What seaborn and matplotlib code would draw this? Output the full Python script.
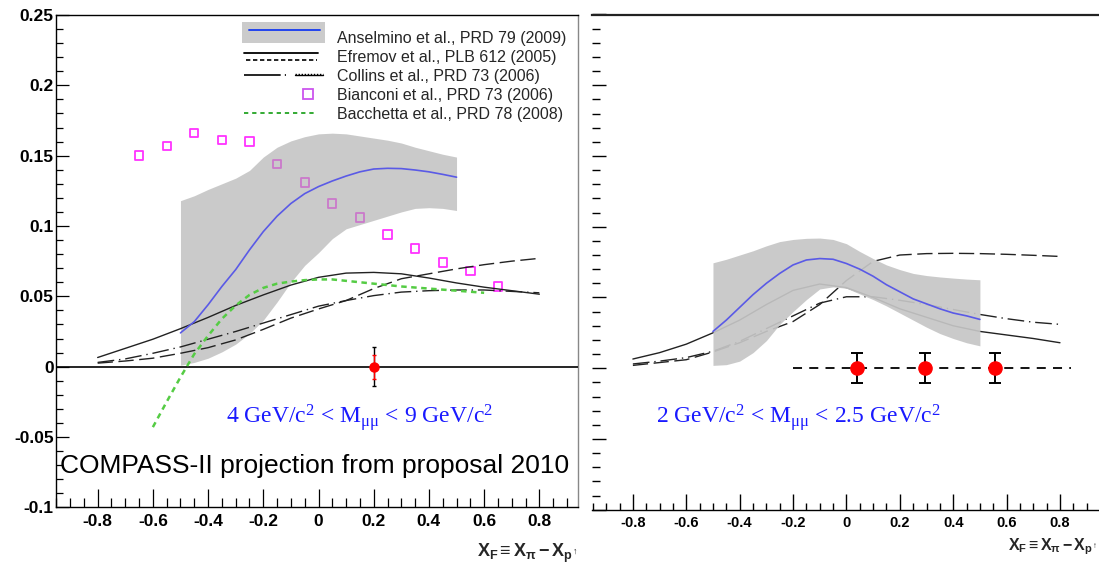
import matplotlib
matplotlib.use("Agg")
import matplotlib.pyplot as plt
import seaborn as sns
from matplotlib.legend_handler import HandlerBase
from matplotlib.lines import Line2D
from matplotlib.patches import Rectangle
from matplotlib.ticker import MultipleLocator, FuncFormatter

# ---------------- data: high-mass panel (4 < M < 9 GeV/c^2) ----------------
hm_band_x = [-0.5, -0.45, -0.4, -0.35, -0.3, -0.25, -0.2, -0.15, -0.1, -0.05, 0.0,
             0.05, 0.1, 0.15, 0.2, 0.25, 0.3, 0.35, 0.4, 0.45, 0.5]
hm_band_hi = [0.118, 0.1215, 0.126, 0.130, 0.134, 0.1395, 0.149, 0.156, 0.1605, 0.1635, 0.1655,
              0.166, 0.1655, 0.164, 0.1625, 0.161, 0.159, 0.156, 0.1535, 0.151, 0.149]
hm_band_lo = [0.001, 0.003, 0.006, 0.0105, 0.016, 0.0235, 0.033, 0.046, 0.060, 0.072, 0.081,
              0.091, 0.098, 0.101, 0.104, 0.107, 0.110, 0.1125, 0.113, 0.1125, 0.111]
hm_anselmino = [0.024, 0.032, 0.044, 0.057, 0.069, 0.083, 0.096, 0.107, 0.116, 0.123, 0.128,
                0.132, 0.1355, 0.1385, 0.1405, 0.141, 0.1408, 0.1398, 0.1385, 0.1367, 0.1347]

curve_x = [-0.8, -0.7, -0.6, -0.5, -0.4, -0.3, -0.2, -0.1, 0.0,
           0.1, 0.2, 0.3, 0.4, 0.5, 0.6, 0.7, 0.8]
hm_efremov = [0.0065, 0.013, 0.0195, 0.027, 0.035, 0.0435, 0.051, 0.058, 0.0635,
              0.0665, 0.067, 0.066, 0.063, 0.0595, 0.0565, 0.054, 0.0515]
hm_efremov_alt = [0.0025, 0.004, 0.006, 0.0095, 0.0135, 0.019, 0.0265, 0.0345, 0.041,
                  0.047, 0.0555, 0.0625, 0.066, 0.0695, 0.0725, 0.075, 0.077]
hm_collins = [0.003, 0.0055, 0.0095, 0.014, 0.0195, 0.025, 0.031, 0.037, 0.043,
              0.047, 0.0505, 0.053, 0.054, 0.0545, 0.0545, 0.0535, 0.0525]

bianconi_x = [-0.65, -0.55, -0.45, -0.35, -0.25, -0.15, -0.05,
              0.05, 0.15, 0.25, 0.35, 0.45, 0.55, 0.65]
bianconi_y = [0.150, 0.157, 0.166, 0.161, 0.160, 0.144, 0.131,
              0.116, 0.106, 0.094, 0.084, 0.074, 0.068, 0.057]

bacchetta_x = [-0.6, -0.55, -0.5, -0.45, -0.4, -0.35, -0.3, -0.25, -0.2, -0.15, -0.1,
               -0.05, 0.0, 0.05, 0.1, 0.2, 0.3, 0.4, 0.5, 0.6]
bacchetta_y = [-0.043, -0.025, -0.0075, 0.009, 0.022, 0.034, 0.0435, 0.051, 0.056, 0.059, 0.0605,
               0.0615, 0.062, 0.062, 0.061, 0.059, 0.057, 0.0555, 0.054, 0.0525]

hm_point_x = [0.2]
hm_point_y = [0.0]
hm_stat_err = [0.014]
hm_syst_err = [0.0085]

# ---------------- data: low-mass panel (2 < M < 2.5 GeV/c^2) ----------------
lm_band_hi = [0.0745, 0.077, 0.080, 0.083, 0.0865, 0.0895, 0.091, 0.0918, 0.092, 0.091, 0.088,
              0.0825, 0.0775, 0.073, 0.0697, 0.067, 0.0655, 0.0645, 0.0637, 0.063, 0.0625]
lm_band_lo = [0.002, 0.0025, 0.005, 0.011, 0.0195, 0.031, 0.040, 0.0485, 0.056, 0.0575, 0.0565,
              0.0525, 0.0485, 0.044, 0.039, 0.034, 0.029, 0.0245, 0.021, 0.018, 0.0158]
lm_anselmino = [0.026, 0.034, 0.043, 0.052, 0.060, 0.067, 0.073, 0.0765, 0.0775, 0.077, 0.074,
                0.070, 0.065, 0.059, 0.054, 0.049, 0.0455, 0.042, 0.039, 0.037, 0.0345]
lm_efremov = [0.0065, 0.011, 0.017, 0.025, 0.034, 0.045, 0.055, 0.0595, 0.057,
              0.050, 0.042, 0.036, 0.030, 0.026, 0.0235, 0.021, 0.018]
lm_efremov_alt = [0.002, 0.004, 0.006, 0.0115, 0.018, 0.026, 0.033, 0.045, 0.062,
                  0.0755, 0.080, 0.081, 0.0812, 0.081, 0.0805, 0.0798, 0.079]
lm_collins = [0.003, 0.005, 0.0075, 0.012, 0.019, 0.028, 0.037, 0.046, 0.0505,
              0.0505, 0.048, 0.045, 0.0415, 0.038, 0.035, 0.0325, 0.031]

lm_point_x = [0.04, 0.295, 0.555]
lm_point_y = [0.0, 0.0, 0.0]
lm_stat_err = [0.0105, 0.0105, 0.0105]
lm_zero_x = [-0.2, 0.84]

legend_labels = ["Anselmino et al., PRD 79 (2009)",
                 "Efremov et al., PLB 612 (2005)",
                 "Collins et al., PRD 73 (2006)",
                 "Bianconi et al., PRD 73 (2006)",
                 "Bacchetta et al., PRD 78 (2008)"]

# ---------------- style ----------------
GRAY_BAND = "#a8a8a8"
GRAY_BAND_LM = "#c6c6c6"
BLUE = "#5a5ae6"
MAGENTA = "#ff33ff"
GREEN = "#55cc44"
RED = "#ff0000"
TXT_BLUE = "#1a1aff"

sns.set_theme(style="white")
plt.rcParams["font.family"] = ["Liberation Sans", "DejaVu Sans"]
plt.rcParams["axes.unicode_minus"] = False
plt.rcParams["mathtext.fontset"] = "stix"

W, H = 1099, 566
fig = plt.figure(figsize=(W / 100, H / 100), dpi=100)
fig.patch.set_facecolor("white")


def px_rect(left, right, bottom, top):
    return [left / W, 1 - bottom / H, (right - left) / W, (bottom - top) / H]


ax1 = fig.add_axes(px_rect(55.7, 578, 507.3, 15))
ax2 = fig.add_axes(px_rect(592.3, 1099.5, 509.7, 14.5))

LONG_DASH = (0, (11, 4))
DASH_DOT = (0, (12, 3.5, 1, 3.5))
GREEN_DASH = (0, (2.2, 1.8))


def tick_fmt(v, pos):
    v = round(v, 4)
    return "0" if abs(v) < 1e-9 else f"{v:g}"


for ax in (ax1, ax2):
    ax.set_facecolor("white")
    ax.set_xlim(-0.952, 0.94 if ax is ax1 else 0.948)
    ax.set_ylim(-0.1, 0.25)
    ax.xaxis.set_major_locator(MultipleLocator(0.2))
    ax.xaxis.set_minor_locator(MultipleLocator(0.05))
    ax.yaxis.set_major_locator(MultipleLocator(0.05))
    ax.yaxis.set_minor_locator(MultipleLocator(0.01))
    ax.xaxis.set_major_formatter(FuncFormatter(tick_fmt))
    ax.yaxis.set_major_formatter(FuncFormatter(tick_fmt))
    ax.grid(False)

# ---------------- left panel ----------------
sns.scatterplot(x=bianconi_x, y=bianconi_y, ax=ax1, marker="s", s=36,
                facecolors="none", edgecolors=MAGENTA, linewidths=1.3, zorder=1)
ax1.fill_between(hm_band_x, hm_band_lo, hm_band_hi, color=GRAY_BAND, alpha=0.6,
                 lw=0, zorder=2)
ax1.axhline(0, color="black", lw=1.2, zorder=3)
sns.lineplot(x=curve_x, y=hm_efremov, ax=ax1, color="#222222", lw=1.0, zorder=4)
sns.lineplot(x=curve_x, y=hm_efremov_alt, ax=ax1, color="#222222", lw=1.0,
             linestyle=LONG_DASH, zorder=4)
sns.lineplot(x=curve_x, y=hm_collins, ax=ax1, color="#222222", lw=1.0,
             linestyle=DASH_DOT, zorder=4)
sns.lineplot(x=hm_band_x, y=hm_anselmino, ax=ax1, color=BLUE, lw=1.2, zorder=5)
sns.lineplot(x=bacchetta_x, y=bacchetta_y, ax=ax1, color=GREEN, lw=1.8,
             linestyle=GREEN_DASH, zorder=5)
ax1.errorbar(hm_point_x, hm_point_y, yerr=hm_stat_err, fmt="none", ecolor="black",
             elinewidth=1.0, capsize=1.5, zorder=6)
ax1.errorbar(hm_point_x, hm_point_y, yerr=hm_syst_err, fmt="o", color=RED, ms=6.5,
             ecolor=RED, elinewidth=1.0, capsize=1.5, zorder=7)

ax1.tick_params(axis="both", which="both", direction="in", colors="black",
                bottom=True, left=True, top=False, right=False, width=0.9)
ax1.tick_params(axis="x", which="major", length=13, pad=4.5, labelsize=12.5)
ax1.tick_params(axis="x", which="minor", length=6.5)
ax1.tick_params(axis="y", which="major", length=9, pad=1.5, labelsize=12.5)
ax1.tick_params(axis="y", which="minor", length=4.7)
for lab in ax1.get_xticklabels() + ax1.get_yticklabels():
    lab.set_fontweight("bold")
for side, sp in ax1.spines.items():
    sp.set_visible(True)
    sp.set_color("black" if side != "right" else "#888888")
    sp.set_linewidth(1.0)

ax1.set_xlabel(r"$\mathregular{X_F \equiv X_\pi - X_{p^\uparrow}}$", fontsize=13,
               fontweight="bold", loc="right")
ax1.xaxis.set_label_coords(1.0, (507.3 - 557) / 492.3)
ax1.xaxis.label.set_verticalalignment("baseline")

ax1.text((226 - 55.7) / 522.3, (507.3 - 423) / 492.3,
         r"4 GeV/c$\mathregular{^2}$ < M$\mathregular{_{μμ}}$ < 9 GeV/c$\mathregular{^2}$",
         transform=ax1.transAxes, color=TXT_BLUE, fontsize=17,
         family=["Liberation Serif", "DejaVu Serif"], va="baseline", ha="left")
ax1.text((60 - 55.7) / 522.3, (507.3 - 473) / 492.3,
         "COMPASS-II projection from proposal 2010",
         transform=ax1.transAxes, color="black", fontsize=19, va="baseline", ha="left")


# ---------------- legend with composite handles ----------------
class PainterHandler(HandlerBase):
    def __init__(self, painter):
        super().__init__()
        self.painter = painter

    def create_artists(self, legend, orig_handle, xdescent, ydescent, width, height,
                       fontsize, trans):
        x0, y0 = -xdescent, -ydescent
        yc = y0 + height / 2
        arts = self.painter(x0, yc, width)
        for a in arts:
            a.set_transform(trans)
        return arts


def paint_anselmino(x0, yc, w):
    box = Rectangle((x0, yc - 3.8), w, 15.1, facecolor="#cbcbcb", edgecolor="none")
    line = Line2D([x0 + 0.08 * w, x0 + 0.94 * w], [yc + 5.3, yc + 5.3], color="#2244ee", lw=1.4)
    return [box, line]


def paint_efremov(x0, yc, w):
    a = Line2D([x0 + 0.03 * w, x0 + 0.92 * w], [yc + 2.2, yc + 2.2], color="black", lw=1.3)
    b = Line2D([x0 + 0.05 * w, x0 + 0.9 * w], [yc - 2.6, yc - 2.6], color="black", lw=1.2,
               linestyle=(0, (2.6, 1.6)))
    return [a, b]


def paint_collins(x0, yc, w):
    a = Line2D([x0 + 0.03 * w, x0 + 0.53 * w], [yc, yc], color="black", lw=1.2,
               linestyle=(0, (22, 2.5, 1, 2.5)))
    b = Line2D([x0 + 0.64 * w, x0 + 0.98 * w], [yc, yc], color="black", lw=1.0)
    c = Line2D([x0 + 0.64 * w, x0 + 0.98 * w], [yc + 0.9, yc + 0.9], color="black", lw=1.0,
               linestyle=(0, (1, 1.2)))
    return [a, b, c]


def paint_bianconi(x0, yc, w):
    m = Line2D([x0 + 0.8 * w], [yc], marker="s", ms=6.5, mfc="none", mec="#cc55ee",
               mew=1.3, ls="none")
    return [m]


def paint_bacchetta(x0, yc, w):
    g = Line2D([x0 + 0.03 * w, x0 + 0.88 * w], [yc, yc], color="#33aa33", lw=1.4,
               linestyle=(0, (2.2, 2.0)))
    return [g]


painters = [paint_anselmino, paint_efremov, paint_collins, paint_bianconi, paint_bacchetta]
proxies = [Line2D([], []) for _ in painters]
hmap = {p: PainterHandler(f) for p, f in zip(proxies, painters)}
ax1.legend(proxies, legend_labels, handler_map=hmap, loc="upper left",
           bbox_to_anchor=(242 / W, 1 - 31 / H), bbox_transform=fig.transFigure,
           frameon=False, fontsize=11.5, handlelength=5.2, handletextpad=0.75,
           labelspacing=0.25, borderpad=0, borderaxespad=0)

# ---------------- right panel ----------------
sns.lineplot(x=curve_x, y=lm_efremov, ax=ax2, color="#222222", lw=1.0, zorder=1)
sns.lineplot(x=curve_x, y=lm_efremov_alt, ax=ax2, color="#222222", lw=1.0,
             linestyle=LONG_DASH, zorder=1)
sns.lineplot(x=curve_x, y=lm_collins, ax=ax2, color="#222222", lw=1.0,
             linestyle=DASH_DOT, zorder=1)
ax2.fill_between(hm_band_x, lm_band_lo, lm_band_hi, color=GRAY_BAND_LM, alpha=0.92,
                 lw=0, zorder=2)
sns.lineplot(x=hm_band_x, y=lm_anselmino, ax=ax2, color=BLUE, lw=1.2, zorder=3)
sns.lineplot(x=lm_zero_x, y=[0, 0], ax=ax2, color="black", lw=1.3,
             linestyle=(0, (5, 4)), zorder=3)
ax2.errorbar(lm_point_x, lm_point_y, yerr=lm_stat_err, fmt="o", color=RED, ms=9.5,
             ecolor="black", elinewidth=1.4, capsize=4, capthick=1.4, zorder=4)

ax2.tick_params(axis="both", which="both", direction="in", colors="black",
                bottom=True, left=True, top=False, right=False, width=1.0,
                labelleft=False)
ax2.tick_params(axis="x", which="major", length=11.5, pad=4.5, labelsize=10.5)
ax2.tick_params(axis="x", which="minor", length=5)
ax2.tick_params(axis="y", which="major", length=10)
ax2.tick_params(axis="y", which="minor", length=5.8)
for lab in ax2.get_xticklabels():
    lab.set_fontweight("bold")
ax2.spines["left"].set_visible(False)
ax2.spines["right"].set_visible(False)
ax2.spines["top"].set_visible(True)
ax2.spines["top"].set_linewidth(1.6)
ax2.spines["top"].set_color("#222222")
ax2.spines["bottom"].set_visible(True)
ax2.spines["bottom"].set_color("black")
ax2.spines["bottom"].set_linewidth(1.0)

ax2.set_xlabel(r"$\mathregular{X_F \equiv X_\pi - X_{p^\uparrow}}$", fontsize=11.5,
               fontweight="bold", loc="right")
ax2.xaxis.set_label_coords((1098 - 592.3) / 507.2, (509.7 - 550) / 494.7)
ax2.xaxis.label.set_verticalalignment("baseline")

ax2.text((656 - 592.3) / 507.2, (509.7 - 423.3) / 494.7,
         r"2 GeV/c$\mathregular{^2}$ < M$\mathregular{_{μμ}}$ < 2.5 GeV/c$\mathregular{^2}$",
         transform=ax2.transAxes, color=TXT_BLUE, fontsize=17,
         family=["Liberation Serif", "DejaVu Serif"], va="baseline", ha="left")

fig.savefig("out.png", dpi=100, facecolor="white")
